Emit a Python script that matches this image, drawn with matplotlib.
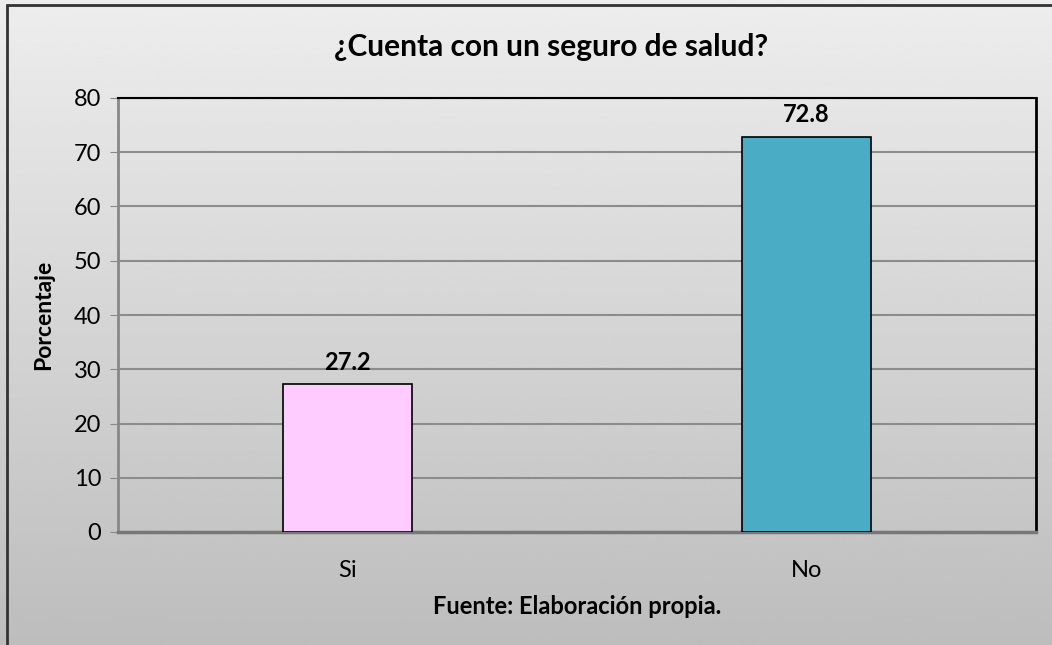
import numpy as np
import matplotlib
matplotlib.use("Agg")
import matplotlib.pyplot as plt
from matplotlib.patches import Rectangle

# Data
categorias = ["Si", "No"]
porcentajes = [27.2, 72.8]
colores = ["#FFCCFF", "#4BACC6"]
y_ticks = [0, 10, 20, 30, 40, 50, 60, 70, 80]

plt.rcParams["font.family"] = ["Lato", "DejaVu Sans"]

W, H = 1052, 645
fig = plt.figure(figsize=(W / 100, H / 100), dpi=100)

# Background gradient over the whole chart
bg = fig.add_axes([0, 0, 1, 1], zorder=-5)
grad = np.linspace(0.93, 0.74, 256).reshape(-1, 1)
bg.imshow(grad, aspect="auto", cmap="gray", vmin=0, vmax=1, extent=[0, 1, 0, 1])
bg.set_axis_off()

# Outer border (cut off on right and bottom)
fig.patches.append(Rectangle((7 / W, -0.1), 1.2, 1 - 5 / H + 0.1, transform=fig.transFigure,
                             fill=False, edgecolor="#333333", linewidth=2))

ax = fig.add_axes([118 / W, 1 - 532 / H, (1036 - 118) / W, (532 - 98) / H])
ax.patch.set_alpha(0)

x = np.arange(len(categorias))
bars = ax.bar(x, porcentajes, width=0.283, color=colores, edgecolor="black", linewidth=1.2, zorder=3)

for b, v in zip(bars, porcentajes):
    ax.text(b.get_x() + b.get_width() / 2, v + 2, f"{v}", ha="center", va="bottom",
            fontsize=17, fontweight="bold")

ax.set_xlim(-0.5, 1.5)
ax.set_ylim(0, 80)
ax.set_yticks(y_ticks)
ax.set_xticks(x)
ax.set_xticklabels(categorias)
ax.tick_params(axis="y", labelsize=17, length=6, color="#888888", direction="out", pad=6)
ax.tick_params(axis="x", labelsize=17, length=0, pad=20)
ax.yaxis.grid(True, color="#8c8c8c", linewidth=1.5, zorder=0)
ax.set_axisbelow(True)

ax.spines["left"].set_color("#888888")
ax.spines["left"].set_linewidth(2)
ax.spines["bottom"].set_color("#777777")
ax.spines["bottom"].set_linewidth(2.5)
ax.spines["top"].set_color("black")
ax.spines["top"].set_linewidth(1.5)
ax.spines["right"].set_color("black")
ax.spines["right"].set_linewidth(2)

ax.set_ylabel("Porcentaje", fontsize=16.5, fontweight="bold", labelpad=14)
ax.set_xlabel("Fuente: Elaboración propia.", fontsize=17, fontweight="bold", labelpad=10)

fig.text(551 / W, 1 - 47 / H, "¿Cuenta con un seguro de salud?", ha="center", va="center",
         fontsize=21.5, fontweight="bold")

fig.savefig("out.png", dpi=100)
